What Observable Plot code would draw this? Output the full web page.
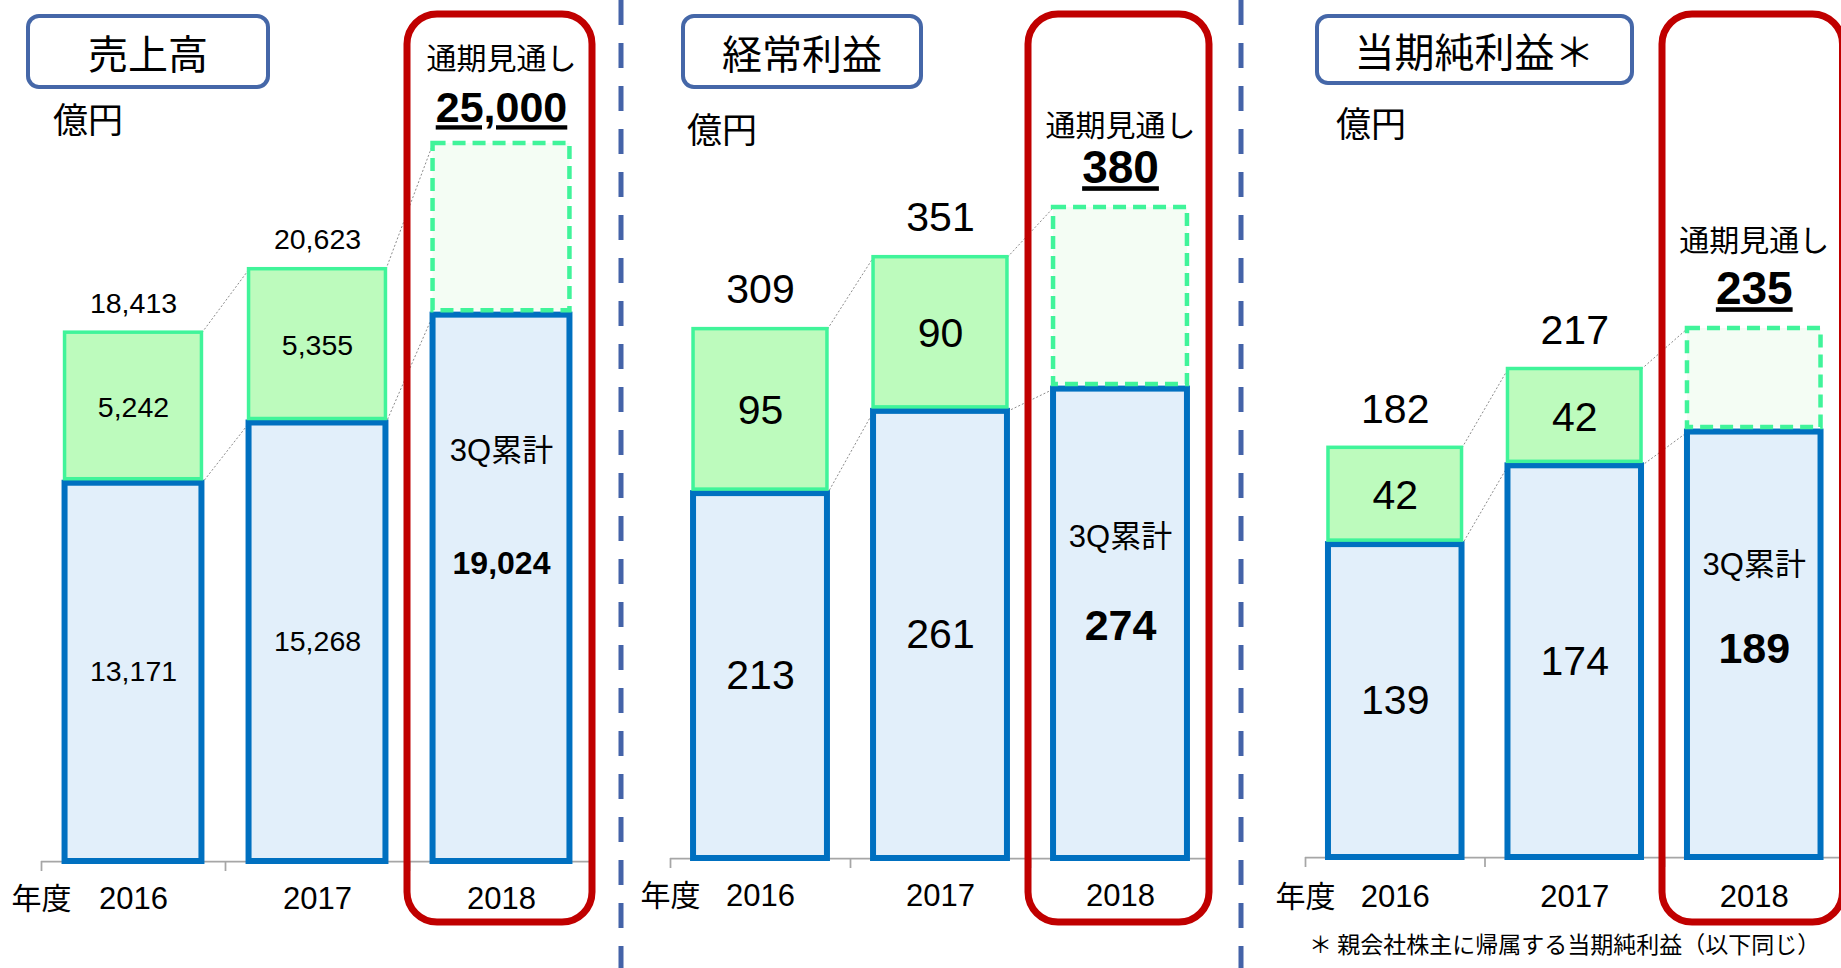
<!DOCTYPE html>
<html><head><meta charset="utf-8">
<script src="https://cdn.jsdelivr.net/npm/d3@7"></script>
<script src="https://cdn.jsdelivr.net/npm/@observablehq/plot@0.6"></script>
<style>
body{margin:0;background:#fff;}
#root{position:relative;width:1841px;height:968px;overflow:hidden;font-family:"Liberation Sans","Noto Sans CJK JP",sans-serif;}
.tbox{position:absolute;box-sizing:border-box;border:4px solid #4567a8;border-radius:13px;background:#fff;display:flex;align-items:center;justify-content:center;font-size:40px;font-family:"Noto Sans CJK JP",sans-serif;color:#000;}
.unit{position:absolute;font-size:35px;font-family:"Noto Sans CJK JP",sans-serif;line-height:1;white-space:nowrap;}
.foot{position:absolute;font-size:23px;font-family:"Noto Sans CJK JP",sans-serif;line-height:1;white-space:nowrap;}
</style></head>
<body><div id="root"></div>
<script>
// ---- data ----
const years = [2016, 2017, 2018];
const panelTitles = ["売上高", "経常利益", "当期純利益＊"];
const unitLabel = "億円";
const fyLabel = "年度";
const forecastLabel = "通期見通し";
const q3Label = "3Q累計";
const footnote = "＊ 親会社株主に帰属する当期純利益（以下同じ）";

const salesQ3 = [13171, 15268, 19024];
const salesQ4 = [5242, 5355];
const salesTotal = [18413, 20623];
const salesForecast = 25000;

const ordQ3 = [213, 261, 274];
const ordQ4 = [95, 90];
const ordTotal = [309, 351];
const ordForecast = 380;

const netQ3 = [139, 174, 189];
const netQ4 = [42, 42];
const netTotal = [182, 217];
const netForecast = 235;

// ---- layout / style ----
const W = 1841, H = 968;
const FONT = '"Liberation Sans","Noto Sans CJK JP",sans-serif';
const layouts = [
  {xr:[41,593], base:861, top:143, fmt:d3.format(","), sz:28.5, totDy:-29, boldSz:32, boldDy:-25, q3Dy:-137, fcSz:43, fcDy:-35, fcLblDy:-84, yearDy:38,
   title:{l:26,t:14,w:244,h:75}, unit:{l:53,cy:117}},
  {xr:[670,1210], base:858, top:207, fmt:d3.format("d"), sz:41, totDy:-39, boldSz:43, boldDy:2, q3Dy:-87, fcSz:46, fcDy:-39, fcLblDy:-81, yearDy:38,
   title:{l:681,t:14,w:242,h:75}, unit:{l:687,cy:127}},
  {xr:[1305,1843.5], base:857, top:328, fmt:d3.format("d"), sz:41, totDy:-38, boldSz:43, boldDy:4, q3Dy:-80, fcSz:46, fcDy:-39, fcLblDy:-87, yearDy:40,
   title:{l:1315,t:14,w:319,h:71}, unit:{l:1336,cy:121}}
];

const root = document.getElementById("root");

// dividers
const div = d3.select(root).append("svg").attr("width", W).attr("height", H)
  .style("position","absolute").style("left","0").style("top","0");
[621, 1241].forEach(x => div.append("line").attr("x1", x).attr("x2", x).attr("y1", 0).attr("y2", H)
  .attr("stroke", "#4463a8").attr("stroke-width", 5).attr("stroke-dasharray", "25,18"));

function makePanel(i, q3, q4, total, forecast) {
  const L = layouts[i];
  const hw = 0.372;
  const rows = years.map((year, j) => ({year, q3: q3[j], q4: q4[j], total: total[j]}));
  const hist = rows.filter(d => d.total != null);
  const cur = rows.filter(d => d.total == null).map(d => ({...d, forecast}));
  const tops = rows.map(d => d.total ?? forecast);
  const links = [];
  for (let j = 0; j < years.length - 1; j++) {
    links.push({year: years[j], a: tops[j], b: tops[j + 1]});
    links.push({year: years[j], a: q3[j], b: q3[j + 1]});
  }
  const bounds = years.map(y => y - 0.5).concat([years[years.length - 1] + 0.5]);
  const frameH = L.base - L.top;

  const svg = Plot.plot({
    width: W, height: H,
    marginLeft: L.xr[0], marginRight: W - L.xr[1], marginTop: L.top, marginBottom: H - L.base,
    x: {type: "linear", domain: [bounds[0], bounds[bounds.length - 1]], axis: null},
    y: {domain: [0, forecast], axis: null},
    style: `background:transparent;position:absolute;left:0;top:0;overflow:visible;max-width:none;font-family:${FONT};`,
    marks: [
      Plot.ruleY([0], {x1: bounds[0], x2: bounds[bounds.length - 1], stroke: "#a6a6a6", strokeWidth: 1.75}),
      Plot.ruleX(bounds, {insetTop: frameH, insetBottom: -10, stroke: "#a6a6a6", strokeWidth: 1.75}),
      Plot.link(links, {x1: d => d.year + hw, y1: "a", x2: d => d.year + 1 - hw, y2: "b",
        stroke: "#8c8c8c", strokeWidth: 1, strokeDasharray: "2,2"}),
      Plot.rect(rows, {x1: d => d.year - hw, x2: d => d.year + hw, y1: 0, y2: "q3",
        fill: "#e2effa", stroke: "#0070c0", strokeWidth: 6}),
      Plot.rect(hist, {x1: d => d.year - hw, x2: d => d.year + hw, y1: "q3", y2: "total", insetBottom: 4,
        fill: "#bdfbbd", stroke: "#40f49a", strokeWidth: 3.5}),
      Plot.rect(cur, {x1: d => d.year - hw, x2: d => d.year + hw, y1: "q3", y2: "forecast", insetBottom: 4.5,
        fill: "#f4fdf4", stroke: "#40f49a", strokeWidth: 4.5, strokeDasharray: "13,7"}),
      Plot.rect(cur, {x1: d => d.year - 0.5, x2: d => d.year + 0.5,
        insetTop: -(L.top - 14), insetBottom: -(922 - L.base), insetLeft: -2, insetRight: 1,
        rx: 30, ry: 30, fill: "none", stroke: "#c00000", strokeWidth: 7}),
      Plot.text(hist, {x: "year", y: "total", text: d => L.fmt(d.total), dy: L.totDy, fontSize: L.sz}),
      Plot.text(hist, {x: "year", y: d => (d.q3 + d.total) / 2, text: d => L.fmt(d.q4), fontSize: L.sz}),
      Plot.text(hist, {x: "year", y: d => d.q3 / 2, text: d => L.fmt(d.q3), fontSize: L.sz}),
      Plot.text(cur, {x: "year", y: d => d.q3 / 2, text: () => q3Label, dy: L.q3Dy, fontSize: 31}),
      Plot.text(cur, {x: "year", y: d => d.q3 / 2, text: d => L.fmt(d.q3), dy: L.boldDy, fontSize: L.boldSz, fontWeight: "bold"}),
      Plot.text(cur, {x: "year", y: "forecast", text: () => forecastLabel, dy: L.fcLblDy, fontSize: 30}),
      Plot.text(cur, {x: "year", y: "forecast", text: d => L.fmt(d.forecast), dy: L.fcDy, fontSize: L.fcSz, fontWeight: "bold"}),
      Plot.text(years, {x: d => d, y: 0, text: d => String(d), dy: L.yearDy, fontSize: 31}),
      Plot.text([fyLabel], {x: bounds[0], y: 0, text: d => d, dy: L.yearDy, fontSize: 30})
    ]
  });
  const fcText = L.fmt(forecast);
  d3.select(svg).selectAll("text").filter(function() { return this.textContent === fcText; })
    .style("text-decoration", "underline");
  root.appendChild(svg);

  // title box & unit label
  const t = L.title;
  const tb = document.createElement("div");
  tb.className = "tbox";
  Object.assign(tb.style, {left: t.l + "px", top: t.t + "px", width: t.w + "px", height: t.h + "px"});
  tb.textContent = panelTitles[i];
  root.appendChild(tb);
  const u = document.createElement("div");
  u.className = "unit";
  Object.assign(u.style, {left: L.unit.l + "px", top: (L.unit.cy - 17) + "px"});
  u.textContent = unitLabel;
  root.appendChild(u);
}

makePanel(0, salesQ3, salesQ4, salesTotal, salesForecast);
makePanel(1, ordQ3, ordQ4, ordTotal, ordForecast);
makePanel(2, netQ3, netQ4, netTotal, netForecast);

const f = document.createElement("div");
f.className = "foot";
Object.assign(f.style, {left: "1309px", top: "932px"});
f.textContent = footnote;
root.appendChild(f);
</script>
</body></html>
